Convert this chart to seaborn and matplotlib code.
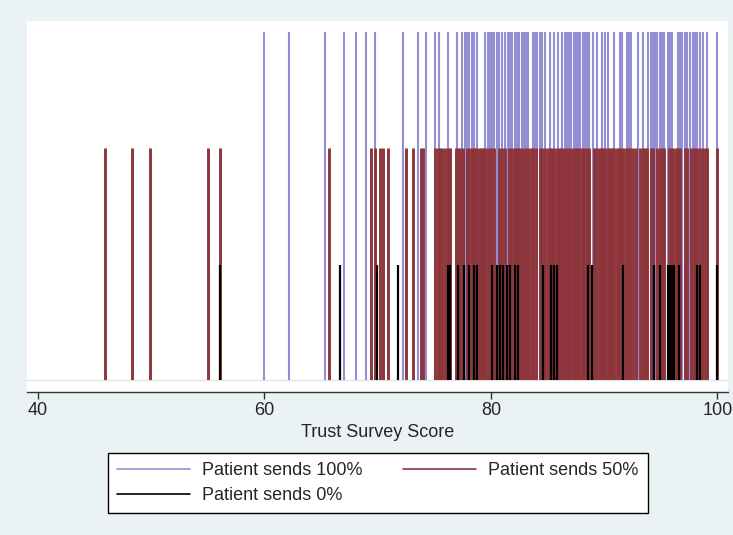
import matplotlib
matplotlib.use('Agg')
import matplotlib.pyplot as plt
from matplotlib.lines import Line2D
from matplotlib.patches import Rectangle
import seaborn as sns

# Trust survey scores by what the patient sent
sends_100 = [60.0, 62.2, 65.3, 67.0, 68.1, 69.0, 69.8, 72.2, 73.6, 74.3, 75.1, 75.4,
             76.2, 77.0, 77.4, 77.7, 77.9, 78.1, 78.3, 78.5, 78.8, 79.5, 79.7, 79.9,
             80.1, 80.3, 80.5, 80.7, 81.0, 81.2, 81.5, 81.7, 81.9, 82.1, 82.3, 82.5,
             82.7, 82.9, 83.1, 83.3, 83.7, 83.9, 84.1, 84.3, 84.5, 84.8, 85.2, 85.6,
             85.9, 86.3, 86.5, 86.7, 86.9, 87.1, 87.3, 87.5, 87.7, 87.9, 88.1, 88.3,
             88.5, 88.7, 89.0, 89.4, 89.8, 90.1, 90.3, 90.9, 91.4, 91.6, 92.0, 92.2,
             92.4, 93.0, 93.4, 93.9, 94.1, 94.3, 94.5, 94.7, 94.9, 95.1, 95.3, 95.6,
             95.8, 96.0, 96.5, 96.7, 96.9, 97.1, 97.3, 97.6, 97.8, 98.0, 98.2, 98.5,
             98.7, 99.1, 100.0]
sends_50 = [45.9, 48.3, 49.9, 55.0, 56.1, 65.7, 69.4, 69.8, 70.2, 70.5, 70.9, 72.5,
            73.1, 73.8, 74.0, 75.1, 75.3, 75.5, 75.7, 75.9, 76.2, 76.4, 76.9, 77.1,
            77.3, 77.5, 77.9, 78.1, 78.3, 78.5, 78.7, 78.9, 79.1, 79.3, 79.5, 79.7,
            80.0, 80.3, 80.7, 81.0, 81.2, 81.6, 81.8, 82.0, 82.2, 82.4, 82.6, 82.8,
            83.1, 83.3, 83.5, 83.7, 84.0, 84.3, 84.5, 84.8, 85.0, 85.2, 85.4, 85.6,
            85.8, 86.0, 86.2, 86.4, 86.6, 86.8, 87.0, 87.2, 87.4, 87.6, 87.8, 88.0,
            88.2, 88.5, 88.7, 89.1, 89.3, 89.5, 89.7, 89.9, 90.1, 90.3, 90.5, 90.7,
            90.9, 91.1, 91.3, 91.5, 91.7, 91.9, 92.1, 92.3, 92.5, 92.8, 93.2, 93.4,
            93.6, 93.8, 94.1, 94.3, 94.7, 94.9, 95.1, 95.3, 95.7, 95.9, 96.1, 96.3,
            96.5, 96.7, 97.1, 97.3, 97.7, 97.9, 98.1, 98.4, 98.6, 98.9, 99.1, 100.0]
sends_0 = [56.1, 66.7, 69.9, 71.8, 76.2, 76.4, 77.1, 77.6, 78.1, 78.5, 78.8, 80.1,
           80.5, 80.8, 81.1, 81.4, 81.7, 82.1, 82.4, 84.6, 85.3, 85.6, 85.8, 88.6,
           88.9, 91.7, 94.4, 94.9, 95.6, 95.8, 96.0, 96.2, 96.6, 98.2, 98.5, 100.0]

labels = ['Patient sends 100%', 'Patient sends 50%', 'Patient sends 0%']
colors = ['#948fd4', '#8e353c', '#000000']
x_ticks = [40, 60, 80, 100]

sns.set_style('white')
plt.rcParams['font.family'] = ['Liberation Sans', 'DejaVu Sans']

W, H = 733, 535
fig = plt.figure(figsize=(W / 100, H / 100), dpi=100, facecolor='#eaf2f3')

# white plot region (Stata style), a bit taller than the axes
fig.patches.append(Rectangle((27 / W, (H - 392) / H), 701 / W, 371 / H,
                             transform=fig.transFigure, facecolor='white',
                             edgecolor='none', zorder=-1))

ax = fig.add_axes([27 / W, (H - 380) / H, 701 / W, 359 / H])
ax.set_facecolor('white')

# spikes: purple tallest, then red, then black
sns.rugplot(x=sends_100, height=0.969, color=colors[0], linewidth=1.5, ax=ax, expand_margins=False)
sns.rugplot(x=sends_50, height=0.646, color=colors[1], linewidth=2.1, ax=ax, expand_margins=False)
sns.rugplot(x=sends_0, height=0.320, color=colors[2], linewidth=1.6, ax=ax, expand_margins=False)

ax.axhline(0, color='#dde7ea', lw=1, clip_on=False, zorder=0)

ax.set_xlim(39.03, 100.93)
ax.set_ylim(0, 1)
ax.set_yticks([])
ax.set_xticks(x_ticks)
ax.tick_params(axis='x', direction='out', length=5, width=1, color='#333333',
               labelsize=13, pad=2.5, bottom=True)
for s in ['left', 'right', 'top']:
    ax.spines[s].set_visible(False)
ax.spines['bottom'].set_position(('outward', 8.6))
ax.spines['bottom'].set_color('#333333')
ax.spines['bottom'].set_linewidth(1)
ax.set_xlabel('Trust Survey Score', fontsize=13, labelpad=3)

# row-major legend: 100% and 50% on the first row, 0% below
order = [0, 2, 1]
handles = [Line2D([], [], color=colors[i], lw=1.2) for i in order]
leg = fig.legend(handles, [labels[i] for i in order], ncol=2, loc='center', mode='expand',
                 bbox_to_anchor=(103 / W, (H - 514) / H, 550 / W, 62 / H),
                 fontsize=13, handlelength=4.0, handletextpad=0.7,
                 labelspacing=0.45, borderpad=0.5, borderaxespad=0.3, fancybox=False,
                 frameon=True, edgecolor='black', framealpha=1)
leg.get_frame().set_linewidth(1)
leg.get_frame().set_facecolor('white')

fig.savefig('out.png', dpi=100, facecolor=fig.get_facecolor())
